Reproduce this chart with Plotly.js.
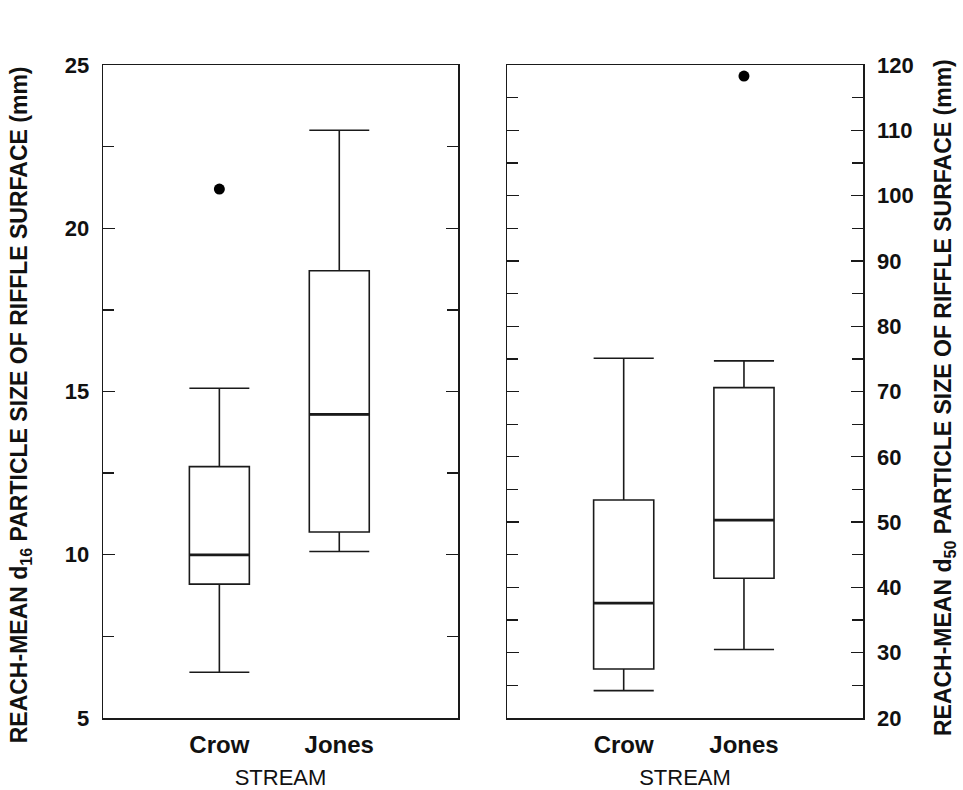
<!DOCTYPE html>
<html>
<head>
<meta charset="utf-8">
<script src="https://cdn.plot.ly/plotly-3.0.1.min.js"></script>
<style>html,body{margin:0;padding:0;background:#fff;}#chart{width:963px;height:790px;}</style>
</head>
<body>
<div id="chart"></div>
<script>
// Categories
const streams = ['Crow', 'Jones'];

// Left panel: reach-mean d16 (mm)
const d16Lower  = [6.4, 10.1];
const d16Q1     = [9.1, 10.7];
const d16Median = [10.0, 14.3];
const d16Q3     = [12.7, 18.7];
const d16Upper  = [15.1, 23.0];
const d16OutX   = ['Crow'];
const d16OutY   = [21.2];

// Right panel: reach-mean d50 (mm)
const d50Lower  = [24.2, 30.5];
const d50Q1     = [27.5, 41.4];
const d50Median = [37.6, 50.3];
const d50Q3     = [53.4, 70.6];
const d50Upper  = [75.1, 74.7];
const d50OutX   = ['Jones'];
const d50OutY   = [118.3];

// Text
const xTitle = 'STREAM';
const leftTitle = 'REACH-MEAN d<sub>16</sub> PARTICLE SIZE OF RIFFLE SURFACE (mm)';
const rightTitle = 'REACH-MEAN d<sub>50</sub> PARTICLE SIZE OF RIFFLE SURFACE (mm)';

const FONT = 'Liberation Sans, Arial, Helvetica, sans-serif';
const INK = '#1a1a1a';

function boxTrace(xa, ya, lo, q1, med, q3, up, lw) {
  return {
    type: 'box', x: streams, xaxis: xa, yaxis: ya,
    lowerfence: lo, q1: q1, median: med, q3: q3, upperfence: up,
    width: 0.5, whiskerwidth: 1,
    line: {color: INK, width: lw}, fillcolor: 'rgba(0,0,0,0)',
    boxpoints: false, hoverinfo: 'skip', showlegend: false
  };
}
function outTrace(xa, ya, xs, ys) {
  return {
    type: 'scatter', mode: 'markers', x: xs, y: ys, xaxis: xa, yaxis: ya,
    marker: {color: '#000', size: 11}, hoverinfo: 'skip', showlegend: false
  };
}

const data = [
  boxTrace('x', 'y', d16Lower, d16Q1, d16Median, d16Q3, d16Upper, 1.6),
  boxTrace('x', 'y', d16Median, d16Median, d16Median, d16Median, d16Median, 2.8),
  outTrace('x', 'y', d16OutX, d16OutY),
  boxTrace('x2', 'y2', d50Lower, d50Q1, d50Median, d50Q3, d50Upper, 1.6),
  boxTrace('x2', 'y2', d50Median, d50Median, d50Median, d50Median, d50Median, 2.8),
  outTrace('x2', 'y2', d50OutX, d50OutY)
];

const xbase = {
  type: 'category', categoryorder: 'array', categoryarray: streams,
  range: [-0.97, 1.99], showline: true, mirror: true, linecolor: INK, linewidth: 1.5,
  ticks: '', showgrid: false, zeroline: false, fixedrange: true, ticklabelstandoff: 5,
  tickfont: {family: FONT, size: 24, color: '#111', weight: 'bold'},
  title: {text: xTitle, font: {family: FONT, size: 22, color: '#111'}, standoff: 14}
};
const ybase = {
  showline: true, mirror: 'ticks', linecolor: INK, linewidth: 1.5,
  ticks: 'inside', ticklen: 12, tickcolor: INK, tickwidth: 1.3,
  showgrid: false, zeroline: false, fixedrange: true, ticklabelstandoff: 8,
  tickfont: {family: FONT, size: 22, color: '#111', weight: 'bold'}
};

const layout = {
  width: 963, height: 790,
  margin: {l: 0, r: 0, t: 0, b: 0},
  paper_bgcolor: '#fff', plot_bgcolor: '#fff',
  showlegend: false, boxmode: 'overlay',
  xaxis: Object.assign({}, xbase, {domain: [0.107, 0.4756], anchor: 'y'}),
  xaxis2: Object.assign({}, xbase, {domain: [0.5265, 0.8962], anchor: 'y2'}),
  yaxis: Object.assign({}, ybase, {
    domain: [0.0911, 0.9177], anchor: 'x', range: [5, 25], dtick: 5, tick0: 0,
    minor: {dtick: 2.5, ticks: 'inside', ticklen: 11, tickcolor: INK, tickwidth: 1.3, showgrid: false}
  }),
  yaxis2: Object.assign({}, ybase, {
    domain: [0.0911, 0.9177], anchor: 'x2', side: 'right', range: [20, 120], dtick: 10, tick0: 0,
    minor: {dtick: 5, ticks: 'inside', ticklen: 11, tickcolor: INK, tickwidth: 1.3, showgrid: false}
  }),
  annotations: [
    {text: leftTitle, xref: 'paper', yref: 'paper', x: 0.0208, y: 0.487,
     xanchor: 'center', yanchor: 'middle', textangle: -90, showarrow: false,
     font: {family: FONT, size: 23, color: '#111', weight: 'bold'}},
    {text: rightTitle, xref: 'paper', yref: 'paper', x: 0.981, y: 0.497,
     xanchor: 'center', yanchor: 'middle', textangle: -90, showarrow: false,
     font: {family: FONT, size: 23, color: '#111', weight: 'bold'}}
  ]
};

Plotly.newPlot('chart', data, layout, {displayModeBar: false, staticPlot: true});
</script>
</body>
</html>
